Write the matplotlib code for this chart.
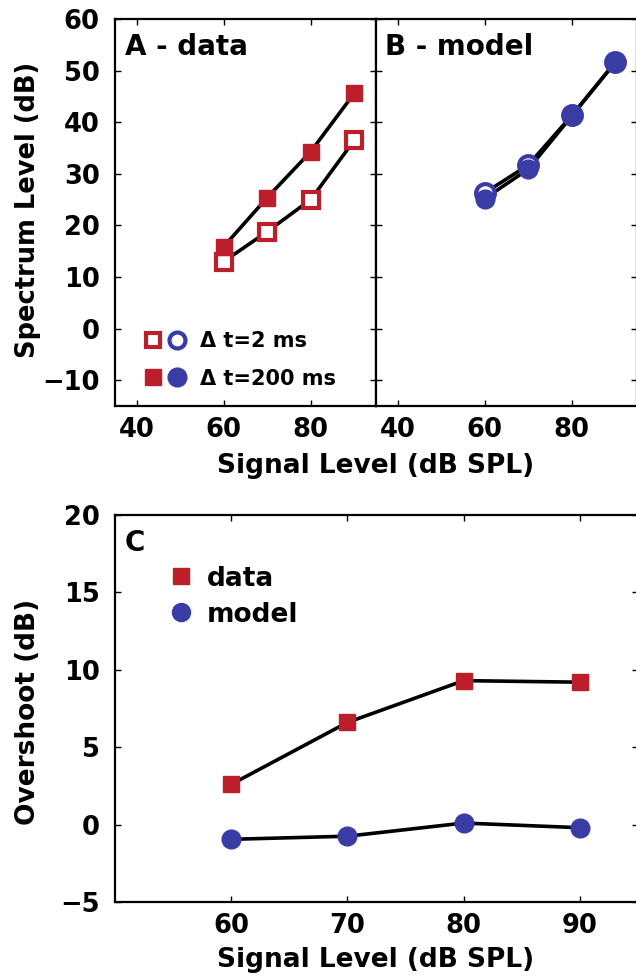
import matplotlib.pyplot as plt
from matplotlib.lines import Line2D
from matplotlib.legend_handler import HandlerTuple

plt.rcParams['font.family'] = ['DejaVu Sans']
plt.rcParams['font.weight'] = 'bold'

red = '#bd1f2a'
blue = '#3a3ca6'

levels = [60, 70, 80, 90]

# panel A - data (spectrum level, dB)
data_2ms = [13.0, 18.8, 25.0, 36.5]
data_200ms = [15.9, 25.4, 34.3, 45.6]

# panel B - model
model_2ms = [26.3, 31.7, 41.3, 51.6]
model_200ms = [25.2, 30.9, 41.2, 51.6]

# panel C - overshoot (dB)
over_data = [2.6, 6.6, 9.3, 9.2]
over_model = [-0.95, -0.75, 0.1, -0.2]

W, H = 636, 977
fig = plt.figure(figsize=(W / 100, H / 100), dpi=100)


def px_axes(x0, y0, x1, y1):
    return fig.add_axes([x0 / W, 1 - y1 / H, (x1 - x0) / W, (y1 - y0) / H])


axA = px_axes(115, 19, 376, 406)
axB = px_axes(376, 19, 637, 406)
axC = px_axes(115, 515, 638, 902)

for ax in (axA, axB, axC):
    ax.tick_params(direction='in', top=True, right=True, length=4, width=1,
                   labelsize=18.5)
    ax.tick_params(axis='y', pad=11)
    ax.tick_params(axis='x', pad=8)
    for s in ax.spines.values():
        s.set_linewidth(1.6)

lw = 2.6
sq = 11.5
ci = 13.5

# A
axA.plot(levels, data_2ms, '-', color='black', lw=lw, zorder=2)
axA.plot(levels, data_200ms, '-', color='black', lw=lw, zorder=2)
axA.plot(levels, data_2ms, 's', ms=sq, mfc='white', mec=red, mew=3, zorder=3)
axA.plot(levels, data_200ms, 's', ms=sq, mfc=red, mec=red, zorder=3)
axA.set_xlim(35, 95)
axA.set_ylim(-15, 60)
axA.set_xticks([40, 60, 80])
axA.set_yticks([-10, 0, 10, 20, 30, 40, 50, 60])
axA.text(0.04, 0.965, 'A - data', transform=axA.transAxes, fontsize=20,
         fontweight='bold', va='top', ha='left')

h_open = (Line2D([], [], ls='', marker='s', ms=10.5, mfc='white', mec=red, mew=3),
          Line2D([], [], ls='', marker='o', ms=11.5, mfc='white', mec=blue, mew=3))
h_fill = (Line2D([], [], ls='', marker='s', ms=12, mfc=red, mec=red),
          Line2D([], [], ls='', marker='o', ms=13.5, mfc=blue, mec=blue))
axA.legend([h_open, h_fill], ['Δ t=2 ms', 'Δ t=200 ms'],
           handler_map={tuple: HandlerTuple(ndivide=None, pad=0.3)},
           loc='lower left', bbox_to_anchor=(0.055, 0.007), frameon=False,
           fontsize=15, handlelength=2.0, handletextpad=0.7, labelspacing=0.85,
           borderpad=0.2)

# B
axB.plot(levels, model_2ms, '-', color='black', lw=lw, zorder=2)
axB.plot(levels, model_200ms, '-', color='black', lw=lw, zorder=2)
axB.plot(levels, model_2ms, 'o', ms=ci, mfc='white', mec=blue, mew=3, zorder=3)
axB.plot(levels, model_200ms, 'o', ms=ci, mfc=blue, mec=blue, zorder=4)
axB.set_xlim(35, 95)
axB.set_ylim(-15, 60)
axB.set_xticks([40, 60, 80])
axB.set_yticks([-10, 0, 10, 20, 30, 40, 50, 60])
axB.tick_params(labelleft=False)
axB.text(0.035, 0.965, 'B - model', transform=axB.transAxes, fontsize=20,
         fontweight='bold', va='top', ha='left')

# C
axC.plot(levels, over_data, '-', color='black', lw=lw, zorder=2)
axC.plot(levels, over_model, '-', color='black', lw=lw, zorder=2)
axC.plot(levels, over_data, 's', ms=sq, mfc=red, mec=red, zorder=3, label='data')
axC.plot(levels, over_model, 'o', ms=ci, mfc=blue, mec=blue, zorder=3, label='model')
axC.set_xlim(50, 95)
axC.set_ylim(-5, 20)
axC.set_xticks([60, 70, 80, 90])
axC.set_yticks([-5, 0, 5, 10, 15, 20])
axC.text(0.018, 0.965, 'C', transform=axC.transAxes, fontsize=20,
         fontweight='bold', va='top', ha='left')
hC = [Line2D([], [], ls='', marker='s', ms=11, mfc=red, mec=red),
      Line2D([], [], ls='', marker='o', ms=13, mfc=blue, mec=blue)]
axC.legend(hC, ['data', 'model'], loc='upper left', bbox_to_anchor=(0.07, 0.91),
           frameon=False, fontsize=19, handlelength=1.0, handletextpad=0.5,
           labelspacing=0.38, borderpad=0.1)

# axis labels
fig.text(376 / W, 1 - 466 / H, 'Signal Level (dB SPL)', ha='center', va='center',
         fontsize=19, fontweight='bold')
fig.text(376 / W, 1 - 960 / H, 'Signal Level (dB SPL)', ha='center', va='center',
         fontsize=19, fontweight='bold')
fig.text(28 / W, 1 - 210 / H, 'Spectrum Level (dB)', ha='center', va='center',
         rotation=90, fontsize=18.5, fontweight='bold')
fig.text(28 / W, 1 - 712 / H, 'Overshoot (dB)', ha='center', va='center',
         rotation=90, fontsize=19, fontweight='bold')

fig.savefig('out.png', dpi=100)
